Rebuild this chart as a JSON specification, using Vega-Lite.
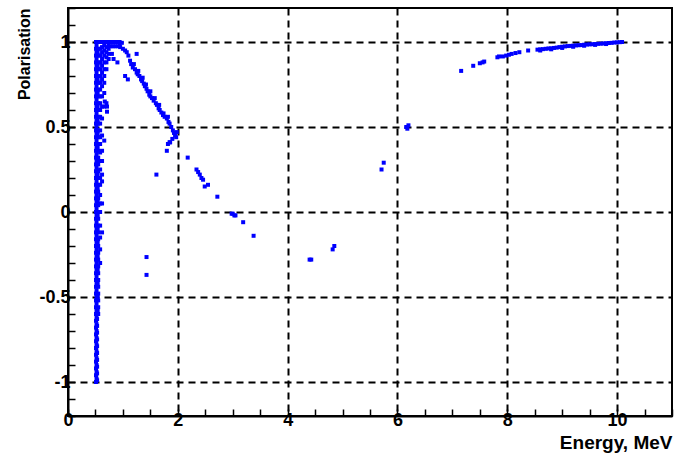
{
"$schema": "https://vega.github.io/schema/vega-lite/v6.json",
"width": 604,
"height": 408,
"autosize": {"type": "none"},
"padding": {"left": 68, "top": 8, "right": 2, "bottom": 45},
"background": "white",
"config": {
  "view": {"stroke": "black", "strokeWidth": 2}
},
"data": {"values": [
{"e":0.51,"p":-1},{"e":0.52,"p":-0.98},{"e":0.51,"p":-0.96},{"e":0.52,"p":-0.94},{"e":0.51,"p":-0.92},{"e":0.52,"p":-0.9},{"e":0.51,"p":-0.88},{"e":0.52,"p":-0.86},{"e":0.51,"p":-0.84},{"e":0.52,"p":-0.82},
{"e":0.51,"p":-0.8},{"e":0.52,"p":-0.78},{"e":0.51,"p":-0.76},{"e":0.52,"p":-0.74},{"e":0.51,"p":-0.72},{"e":0.52,"p":-0.7},{"e":0.51,"p":-0.68},{"e":0.52,"p":-0.66},{"e":0.51,"p":-0.64},{"e":0.52,"p":-0.62},
{"e":0.51,"p":-0.6},{"e":0.52,"p":-0.58},{"e":0.51,"p":-0.56},{"e":0.52,"p":-0.54},{"e":0.51,"p":-0.52},{"e":0.52,"p":-0.5},{"e":0.51,"p":-0.48},{"e":0.52,"p":-0.46},{"e":0.51,"p":-0.44},{"e":0.52,"p":-0.42},
{"e":0.51,"p":-0.4},{"e":0.52,"p":-0.38},{"e":0.51,"p":-0.36},{"e":0.52,"p":-0.34},{"e":0.51,"p":-0.32},{"e":0.52,"p":-0.3},{"e":0.51,"p":-0.28},{"e":0.52,"p":-0.26},{"e":0.51,"p":-0.24},{"e":0.52,"p":-0.22},
{"e":0.51,"p":-0.2},{"e":0.52,"p":-0.18},{"e":0.51,"p":-0.16},{"e":0.52,"p":-0.14},{"e":0.51,"p":-0.12},{"e":0.52,"p":-0.1},{"e":0.51,"p":-0.08},{"e":0.52,"p":-0.06},{"e":0.51,"p":-0.04},{"e":0.52,"p":-0.02},
{"e":0.51,"p":0},{"e":0.52,"p":0.02},{"e":0.51,"p":0.04},{"e":0.52,"p":0.06},{"e":0.51,"p":0.08},{"e":0.52,"p":0.1},{"e":0.51,"p":0.12},{"e":0.52,"p":0.14},{"e":0.51,"p":0.16},{"e":0.52,"p":0.18},
{"e":0.51,"p":0.2},{"e":0.52,"p":0.22},{"e":0.51,"p":0.24},{"e":0.52,"p":0.26},{"e":0.51,"p":0.28},{"e":0.52,"p":0.3},{"e":0.51,"p":0.32},{"e":0.52,"p":0.34},{"e":0.51,"p":0.36},{"e":0.52,"p":0.38},
{"e":0.51,"p":0.4},{"e":0.52,"p":0.42},{"e":0.51,"p":0.44},{"e":0.52,"p":0.46},{"e":0.51,"p":0.48},{"e":0.52,"p":0.5},{"e":0.51,"p":0.52},{"e":0.52,"p":0.54},{"e":0.51,"p":0.56},{"e":0.52,"p":0.58},
{"e":0.51,"p":0.6},{"e":0.52,"p":0.62},{"e":0.51,"p":0.64},{"e":0.52,"p":0.66},{"e":0.51,"p":0.68},{"e":0.52,"p":0.7},{"e":0.51,"p":0.72},{"e":0.52,"p":0.74},{"e":0.51,"p":0.76},{"e":0.52,"p":0.78},
{"e":0.51,"p":0.8},{"e":0.52,"p":0.82},{"e":0.51,"p":0.84},{"e":0.52,"p":0.86},{"e":0.51,"p":0.88},{"e":0.52,"p":0.9},{"e":0.51,"p":0.92},{"e":0.52,"p":0.94},{"e":0.51,"p":0.96},{"e":0.52,"p":0.98},{"e":0.51,"p":1},
{"e":0.53,"p":-0.99},{"e":0.53,"p":-0.95},{"e":0.53,"p":-0.91},{"e":0.53,"p":-0.87},{"e":0.53,"p":-0.83},{"e":0.53,"p":-0.79},{"e":0.53,"p":-0.75},{"e":0.53,"p":-0.71},{"e":0.53,"p":-0.67},{"e":0.53,"p":-0.63},
{"e":0.55,"p":-0.6},{"e":0.55,"p":-0.56},{"e":0.55,"p":-0.52},{"e":0.55,"p":-0.48},{"e":0.55,"p":-0.44},{"e":0.55,"p":-0.4},{"e":0.55,"p":-0.36},{"e":0.55,"p":-0.32},{"e":0.55,"p":-0.28},{"e":0.55,"p":-0.24},
{"e":0.55,"p":-0.2},{"e":0.55,"p":-0.16},{"e":0.55,"p":-0.12},{"e":0.55,"p":-0.08},{"e":0.55,"p":-0.04},{"e":0.55,"p":0},{"e":0.55,"p":0.04},{"e":0.55,"p":0.08},{"e":0.55,"p":0.12},{"e":0.55,"p":0.16},
{"e":0.55,"p":0.2},{"e":0.55,"p":0.24},{"e":0.55,"p":0.28},{"e":0.55,"p":0.32},{"e":0.55,"p":0.36},{"e":0.55,"p":0.4},{"e":0.55,"p":0.44},{"e":0.55,"p":0.48},{"e":0.55,"p":0.52},{"e":0.55,"p":0.56},
{"e":0.55,"p":0.6},{"e":0.55,"p":0.64},{"e":0.55,"p":0.68},{"e":0.55,"p":0.72},{"e":0.55,"p":0.76},{"e":0.55,"p":0.8},{"e":0.55,"p":0.84},{"e":0.55,"p":0.88},{"e":0.55,"p":0.92},{"e":0.55,"p":0.96},{"e":0.55,"p":1},
{"e":0.54,"p":-0.58},{"e":0.54,"p":-0.5},{"e":0.54,"p":-0.42},{"e":0.54,"p":-0.34},{"e":0.54,"p":-0.26},{"e":0.54,"p":-0.18},{"e":0.54,"p":-0.1},{"e":0.54,"p":-0.02},{"e":0.54,"p":0.06},{"e":0.54,"p":0.14},
{"e":0.54,"p":0.22},{"e":0.54,"p":0.3},{"e":0.54,"p":0.38},{"e":0.54,"p":0.46},{"e":0.54,"p":0.54},{"e":0.54,"p":0.62},{"e":0.54,"p":0.7},{"e":0.54,"p":0.78},{"e":0.54,"p":0.86},{"e":0.54,"p":0.94},
{"e":0.585,"p":-0.3},{"e":0.585,"p":-0.22},{"e":0.585,"p":-0.15},{"e":0.585,"p":-0.08},{"e":0.585,"p":0},{"e":0.585,"p":0.05},{"e":0.585,"p":0.1},{"e":0.585,"p":0.16},{"e":0.585,"p":0.2},{"e":0.585,"p":0.25},
{"e":0.585,"p":0.3},{"e":0.585,"p":0.35},{"e":0.585,"p":0.4},{"e":0.585,"p":0.44},{"e":0.585,"p":0.48},{"e":0.585,"p":0.52},{"e":0.585,"p":0.56},{"e":0.585,"p":0.6},{"e":0.585,"p":0.64},{"e":0.585,"p":0.68},
{"e":0.585,"p":0.72},{"e":0.585,"p":0.76},{"e":0.585,"p":0.8},{"e":0.585,"p":0.84},{"e":0.585,"p":0.88},{"e":0.585,"p":0.92},{"e":0.585,"p":0.96},{"e":0.585,"p":1},
{"e":0.62,"p":-0.12},{"e":0.62,"p":0.05},{"e":0.62,"p":0.18},{"e":0.62,"p":0.22},{"e":0.62,"p":0.3},{"e":0.62,"p":0.36},{"e":0.62,"p":0.45},{"e":0.62,"p":0.55},{"e":0.62,"p":0.62},{"e":0.62,"p":0.68},
{"e":0.62,"p":0.74},{"e":0.62,"p":0.78},{"e":0.62,"p":0.82},{"e":0.62,"p":0.86},{"e":0.62,"p":0.9},{"e":0.62,"p":0.94},{"e":0.62,"p":0.97},{"e":0.62,"p":1},
{"e":0.66,"p":0.42},{"e":0.66,"p":0.62},{"e":0.66,"p":0.7},{"e":0.66,"p":0.76},{"e":0.66,"p":0.8},{"e":0.66,"p":0.84},{"e":0.66,"p":0.88},{"e":0.66,"p":0.92},{"e":0.66,"p":0.95},{"e":0.66,"p":0.98},{"e":0.66,"p":1},
{"e":0.7,"p":0.64},{"e":0.7,"p":0.84},{"e":0.7,"p":0.88},{"e":0.7,"p":0.91},{"e":0.7,"p":0.94},{"e":0.7,"p":0.97},{"e":0.7,"p":1},
{"e":0.74,"p":0.9},{"e":0.74,"p":0.93},{"e":0.74,"p":0.96},{"e":0.74,"p":0.98},{"e":0.74,"p":1},
{"e":0.78,"p":1},{"e":0.78,"p":0.975},{"e":0.82,"p":1},{"e":0.82,"p":0.975},{"e":0.86,"p":1},{"e":0.86,"p":0.975},{"e":0.9,"p":1},{"e":0.9,"p":0.975},{"e":0.94,"p":1},{"e":0.94,"p":0.98},{"e":0.98,"p":0.995},
{"e":0.95,"p":0.97},{"e":1.0,"p":0.96},{"e":1.04,"p":0.95},{"e":1.07,"p":0.94},{"e":1.1,"p":0.92},{"e":1.13,"p":0.89},{"e":1.15,"p":0.87},{"e":1.18,"p":0.85},{"e":1.22,"p":0.84},{"e":1.25,"p":0.82},
{"e":1.27,"p":0.81},{"e":1.3,"p":0.8},{"e":1.33,"p":0.78},{"e":1.35,"p":0.77},{"e":1.38,"p":0.755},{"e":1.4,"p":0.74},{"e":1.43,"p":0.725},{"e":1.45,"p":0.71},{"e":1.48,"p":0.69},{"e":1.5,"p":0.68},
{"e":1.53,"p":0.67},{"e":1.56,"p":0.655},{"e":1.6,"p":0.64},{"e":1.62,"p":0.63},{"e":1.65,"p":0.61},{"e":1.67,"p":0.6},{"e":1.7,"p":0.585},{"e":1.73,"p":0.57},{"e":1.76,"p":0.56},{"e":1.8,"p":0.55},
{"e":1.83,"p":0.53},{"e":1.85,"p":0.52},{"e":1.88,"p":0.5},{"e":1.91,"p":0.48},{"e":1.93,"p":0.465},{"e":1.95,"p":0.45},{"e":1.98,"p":0.47},{"e":1.97,"p":0.44},{"e":1.82,"p":0.4},{"e":1.86,"p":0.41},{"e":1.9,"p":0.43},
{"e":1.2,"p":0.87},{"e":1.28,"p":0.83},{"e":1.36,"p":0.79},{"e":1.42,"p":0.75},{"e":1.5,"p":0.71},{"e":1.58,"p":0.67},{"e":1.66,"p":0.63},{"e":1.74,"p":0.58},{"e":1.82,"p":0.56},
{"e":1.25,"p":0.93},{"e":0.8,"p":0.93},{"e":0.83,"p":0.9},{"e":0.9,"p":0.88},{"e":1.04,"p":0.8},{"e":1.09,"p":0.78},{"e":0.67,"p":0.65},{"e":0.71,"p":0.62},{"e":0.71,"p":0.59},
{"e":1.43,"p":-0.265},{"e":1.43,"p":-0.37},{"e":1.61,"p":0.22},{"e":1.8,"p":0.36},{"e":1.85,"p":0.41},{"e":2.18,"p":0.32},{"e":2.34,"p":0.25},{"e":2.37,"p":0.235},{"e":2.4,"p":0.22},{"e":2.43,"p":0.2},
{"e":2.46,"p":0.19},{"e":2.49,"p":0.15},{"e":2.55,"p":0.16},{"e":2.72,"p":0.09},{"e":2.98,"p":-0.01},{"e":3.0,"p":-0.01},{"e":3.03,"p":-0.02},{"e":3.05,"p":-0.02},{"e":3.19,"p":-0.06},{"e":3.38,"p":-0.14},
{"e":4.4,"p":-0.28},{"e":4.43,"p":-0.28},{"e":4.82,"p":-0.22},{"e":4.85,"p":-0.2},{"e":5.71,"p":0.25},{"e":5.75,"p":0.29},{"e":6.16,"p":0.5},{"e":6.2,"p":0.51},{"e":6.18,"p":0.49},
{"e":7.16,"p":0.83},{"e":7.38,"p":0.86},{"e":7.5,"p":0.875},{"e":7.55,"p":0.88},{"e":7.58,"p":0.885},{"e":7.82,"p":0.91},{"e":7.85,"p":0.915},{"e":7.92,"p":0.915},{"e":7.98,"p":0.92},{"e":8.03,"p":0.925},
{"e":8.08,"p":0.93},{"e":8.15,"p":0.935},{"e":8.22,"p":0.94},{"e":8.38,"p":0.95},{"e":8.55,"p":0.955},{"e":8.6,"p":0.957},{"e":8.65,"p":0.958},{"e":8.7,"p":0.96},{"e":8.75,"p":0.962},{"e":8.8,"p":0.963},
{"e":8.85,"p":0.965},{"e":8.9,"p":0.967},{"e":8.95,"p":0.97},{"e":9.0,"p":0.972},{"e":9.05,"p":0.974},{"e":9.1,"p":0.976},{"e":9.15,"p":0.977},{"e":9.2,"p":0.978},{"e":9.25,"p":0.98},{"e":9.3,"p":0.981},
{"e":9.35,"p":0.982},{"e":9.4,"p":0.984},{"e":9.45,"p":0.985},{"e":9.5,"p":0.986},{"e":9.55,"p":0.987},{"e":9.6,"p":0.988},{"e":9.65,"p":0.989},{"e":9.7,"p":0.99},{"e":9.75,"p":0.991},{"e":9.8,"p":0.993},
{"e":9.85,"p":0.994},{"e":9.9,"p":0.995},{"e":9.95,"p":0.997},{"e":10.0,"p":0.998},{"e":10.05,"p":0.999},{"e":10.09,"p":1.0},
{"e":8.6,"p":0.95},{"e":8.8,"p":0.957},{"e":9.0,"p":0.965},{"e":9.2,"p":0.972},{"e":9.4,"p":0.978},{"e":9.6,"p":0.983},{"e":9.8,"p":0.988}
]},
"mark": {"type": "point", "shape": "square", "filled": true, "size": 16, "color": "#0000ff", "opacity": 1},
"encoding": {
  "x": {
    "field": "e", "type": "quantitative",
    "scale": {"domain": [0, 11], "nice": false, "zero": false},
    "axis": {
      "domainColor": "black", "domainWidth": 2,
      "labelFont": "Liberation Sans", "labelFontWeight": "bold", "labelFontSize": 18, "labelColor": "black",
      "titleFont": "Liberation Sans", "titleFontWeight": "bold", "titleColor": "black",
      "tickColor": "black", "tickWidth": 1.5, "tickSize": -7,
      "gridColor": "black", "gridWidth": 2, "gridDash": [7, 5],
      "labelOverlap": false, "labelFlush": false, "labelBound": false,
      "title": "Energy, MeV", "titleAnchor": "end", "titlePadding": 4, "titleFontSize": 19,
      "values": [0,0.5,1,1.5,2,2.5,3,3.5,4,4.5,5,5.5,6,6.5,7,7.5,8,8.5,9,9.5,10,10.5,11],
      "labelExpr": "datum.value % 2 == 0 ? format(datum.value, 'd') : ''",
      "labelPadding": 2,
      "grid": true,
      "gridOpacity": {"condition": {"test": "datum.value % 2 == 0 && datum.value > 0", "value": 1}, "value": 0}
    }
  },
  "y": {
    "field": "p", "type": "quantitative",
    "scale": {"domain": [-1.2, 1.2], "nice": false, "zero": false},
    "axis": {
      "domainColor": "black", "domainWidth": 2,
      "labelFont": "Liberation Sans", "labelFontWeight": "bold", "labelFontSize": 18, "labelColor": "black",
      "titleFont": "Liberation Sans", "titleFontWeight": "bold", "titleColor": "black",
      "tickColor": "black", "tickWidth": 1.5, "tickSize": -7,
      "gridColor": "black", "gridWidth": 2, "gridDash": [7, 5],
      "labelOverlap": false, "labelFlush": false, "labelBound": false,
      "title": "Polarisation", "titleAnchor": "end", "titlePadding": 6, "titleFontSize": 16,
      "values": [-1.2,-1.1,-1,-0.9,-0.8,-0.7,-0.6,-0.5,-0.4,-0.3,-0.2,-0.1,0,0.1,0.2,0.3,0.4,0.5,0.6,0.7,0.8,0.9,1,1.1,1.2],
      "labelExpr": "indexof([-1,-0.5,0,0.5,1], datum.value) >= 0 ? replace(format(datum.value, '~g'), '\u2212', '-') : ''",
      "labelPadding": 5,
      "grid": true,
      "gridOpacity": {"condition": {"test": "indexof([-1,-0.5,0,0.5,1], datum.value) >= 0", "value": 1}, "value": 0}
    }
  }
}
}
